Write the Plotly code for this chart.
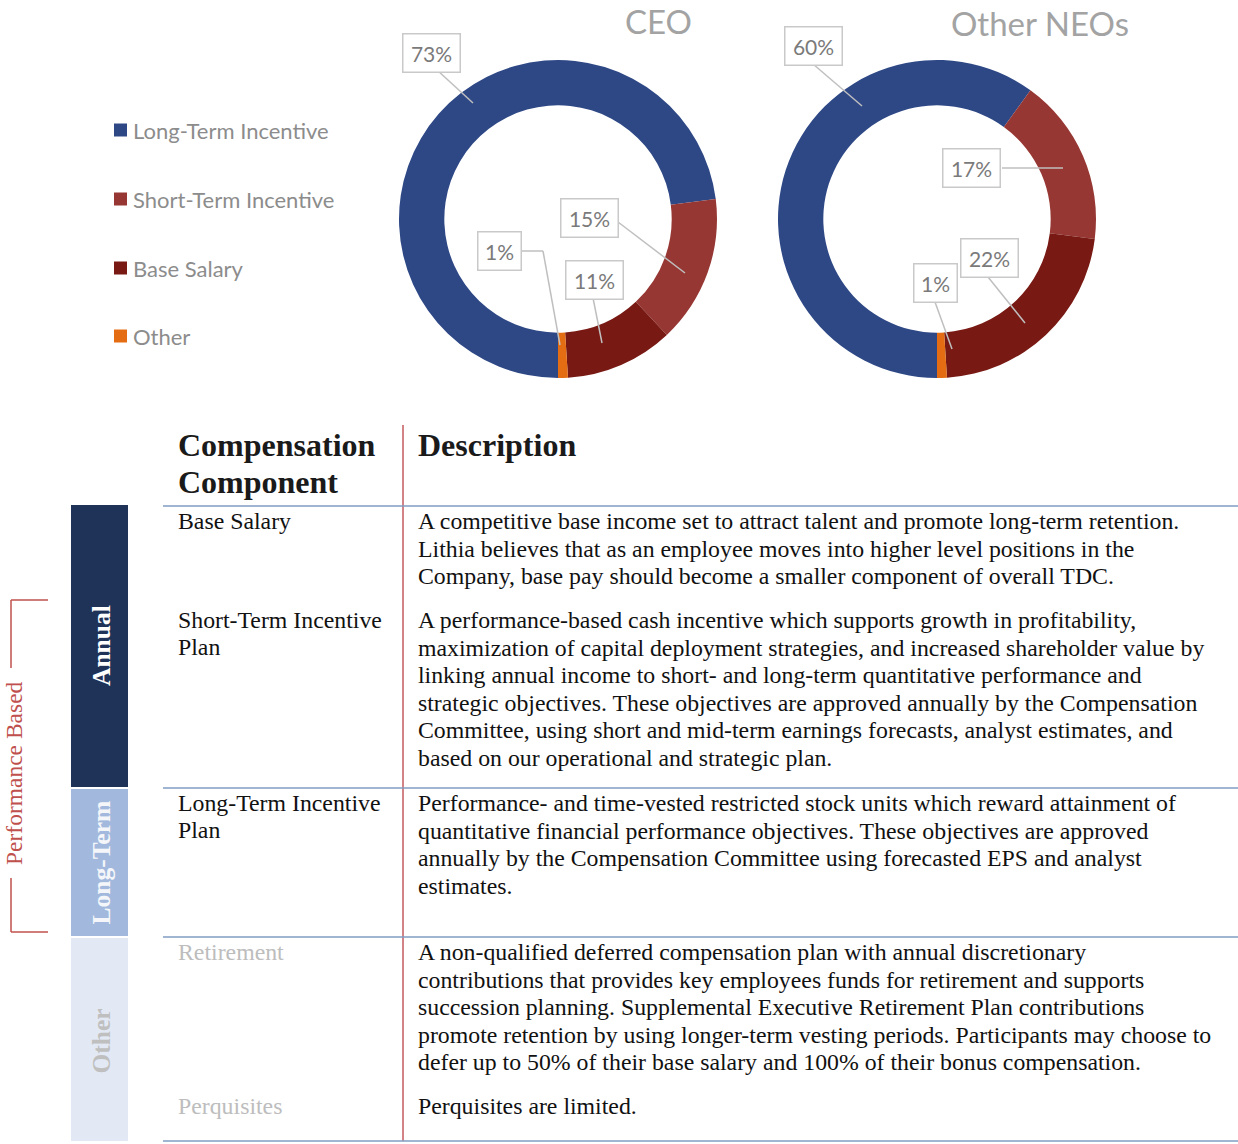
import plotly.graph_objects as go

# ---------------- data ----------------
components = ["Long-Term Incentive", "Short-Term Incentive", "Base Salary", "Other"]
ceo_values = [73, 15, 11, 1]
neo_values = [60, 17, 22, 1]
slice_colors = ["#2E4886", "#963733", "#781913", "#E46C12"]
pie_titles = ["CEO", "Other NEOs"]

row_names = [["Base Salary"],
             ["Short-Term Incentive", "Plan"],
             ["Long-Term Incentive", "Plan"],
             ["Retirement"],
             ["Perquisites"]]
row_desc = [
    ["A competitive base income set to attract talent and promote long-term retention.",
     "Lithia believes that as an employee moves into higher level positions in the",
     "Company, base pay should become a smaller component of overall TDC."],
    ["A performance-based cash incentive which supports growth in profitability,",
     "maximization of capital deployment strategies, and increased shareholder value by",
     "linking annual income to short- and long-term quantitative performance and",
     "strategic objectives. These objectives are approved annually by the Compensation",
     "Committee, using short and mid-term earnings forecasts, analyst estimates, and",
     "based on our operational and strategic plan."],
    ["Performance- and time-vested restricted stock units which reward attainment of",
     "quantitative financial performance objectives. These objectives are approved",
     "annually by the Compensation Committee using forecasted EPS and analyst",
     "estimates."],
    ["A non-qualified deferred compensation plan with annual discretionary",
     "contributions that provides key employees funds for retirement and supports",
     "succession planning. Supplemental Executive Retirement Plan contributions",
     "promote retention by using longer-term vesting periods. Participants may choose to",
     "defer up to 50% of their base salary and 100% of their bonus compensation."],
    ["Perquisites are limited."],
]
group_labels = ["Annual", "Long-Term", "Other"]
group_colors = ["#1F3358", "#A2B9DD", "#E2E9F5"]
group_text_colors = ["#FFFFFF", "#F4F6FA", "#BFBFBF"]
bracket_label = "Performance Based"

# ---------------- layout helpers ----------------
W, H = 1238, 1144

def X(px):
    return px / W

def Y(py):
    return 1 - py / H

SANS = "Lato, 'Noto Sans', sans-serif"
SERIF = "'Liberation Serif', 'Times New Roman', serif"
BODY = 23.8

fig = go.Figure()

# donuts
pie_boxes = [(399, 717, 60, 378), (778, 1096, 60, 378)]
for vals, (x0, x1, y0, y1), name in zip([ceo_values, neo_values], pie_boxes, pie_titles):
    fig.add_trace(go.Pie(
        labels=components, values=vals, name=name,
        marker=dict(colors=slice_colors, line=dict(width=0)),
        hole=0.715, sort=False, direction="clockwise", rotation=180,
        textinfo="none", showlegend=False,
        domain=dict(x=[X(x0), X(x1)], y=[Y(y1), Y(y0)]),
    ))

shapes = []
annotations = []

def line(x0, y0, x1, y1, color, width=1.5):
    shapes.append(dict(type="line", xref="paper", yref="paper",
                       x0=X(x0), y0=Y(y0), x1=X(x1), y1=Y(y1),
                       line=dict(color=color, width=width), layer="above"))

def rect(x0, y0, x1, y1, color):
    shapes.append(dict(type="rect", xref="paper", yref="paper",
                       x0=X(x0), y0=Y(y1), x1=X(x1), y1=Y(y0),
                       fillcolor=color, line=dict(width=0), layer="below"))

def text(x, y, s, size, color, family, xanchor="left", angle=0, **kw):
    annotations.append(dict(xref="paper", yref="paper", x=X(x), y=Y(y), text=s,
                            showarrow=False, xanchor=xanchor, yanchor="middle",
                            textangle=angle, font=dict(size=size, color=color, family=family), **kw))

# pie titles
text(659, 21, pie_titles[0], 33, "#A3A3A3", SANS, xanchor="center")
text(1040, 23, pie_titles[1], 33, "#A3A3A3", SANS, xanchor="center")

# legend
legend_y = [130, 199, 268, 336]
for name, col, ly in zip(components, slice_colors, legend_y):
    rect(114, ly - 6.5, 127, ly + 6.5, col)
    text(131, ly, name, 22, "#8C8C8C", SANS)

# callout labels: (value, box center, leader line points)
callouts = [
    (ceo_values[0], (431, 53), [(437, 70), (473, 103)]),
    (ceo_values[1], (589, 218), [(618, 222), (685, 273)]),
    (ceo_values[3], (500, 251), [(522, 251), (543, 251), (560, 345)]),
    (ceo_values[2], (594, 280), [(593, 298), (602, 343)]),
    (neo_values[0], (813, 46), [(813, 64), (862, 106)]),
    (neo_values[1], (972, 168), [(1002, 168), (1063, 168)]),
    (neo_values[2], (989, 258), [(988, 277), (1025, 323)]),
    (neo_values[3], (935, 283), [(935, 302), (952, 349)]),
]
for v, (cx, cy), pts in callouts:
    for (ax, ay), (bx, by) in zip(pts[:-1], pts[1:]):
        line(ax, ay, bx, by, "#BFBFBF", 1.5)
    s = f"{v}%"
    w = 52 if v >= 10 else 38
    annotations.append(dict(xref="paper", yref="paper", x=X(cx), y=Y(cy), text=s,
                            showarrow=False, xanchor="center", yanchor="middle",
                            width=w, height=33, borderpad=2, bgcolor="#FFFFFF",
                            bordercolor="#C9C9C9", borderwidth=1.5,
                            font=dict(size=21, color="#7A7A7A", family=SANS)))

# ---------------- table ----------------
for tx, ty, s in [(176, 445, "Compensation"), (176, 482, "Component"), (416, 445, "Description")]:
    text(tx, ty, f"<b>{s}</b>", 32, "#1A1A1A", SERIF)

# grid lines
line(403, 425, 403, 1141, "#C55A5E", 1.5)
for hy in [506, 788, 937, 1141]:
    line(163, hy, 1238, hy, "#7F9CC3", 1.5)

# rows
row_start = [521, 620, 803, 952, 1106]
name_colors = ["#111111", "#111111", "#111111", "#BDBDBD", "#BDBDBD"]
LH = 27.6
for names, descs, y0, nc in zip(row_names, row_desc, row_start, name_colors):
    for i, n in enumerate(names):
        text(176, y0 + i * 27, n, BODY, nc, SERIF)
    for i, d in enumerate(descs):
        text(416, y0 + i * LH, d, BODY, "#111111", SERIF)

# group bars
group_spans = [(505, 787), (789, 936), (938, 1141)]
for (g0, g1), col, lab, tc in zip(group_spans, group_colors, group_labels, group_text_colors):
    rect(71, g0, 128, g1, col)
    text(101, (g0 + g1) / 2 + (2 if lab == "Other" else 0), f"<b>{lab}</b>", 25.5, tc, SERIF,
         xanchor="center", angle=-90)

# performance-based bracket
BR = "#C0504D"
line(11, 600, 48, 600, BR)
line(11, 600, 11, 668, BR)
line(11, 878, 11, 932, BR)
line(11, 932, 48, 932, BR)
text(14, 773, bracket_label, 23.5, BR, SERIF, xanchor="center", angle=-90)

fig.update_layout(
    width=W, height=H, margin=dict(l=0, r=0, t=0, b=0),
    paper_bgcolor="#FFFFFF", plot_bgcolor="#FFFFFF",
    shapes=shapes, annotations=annotations, showlegend=False,
)
fig.write_html("out.html", config={"displayModeBar": False},
               post_script="document.body.style.margin='0px';")
